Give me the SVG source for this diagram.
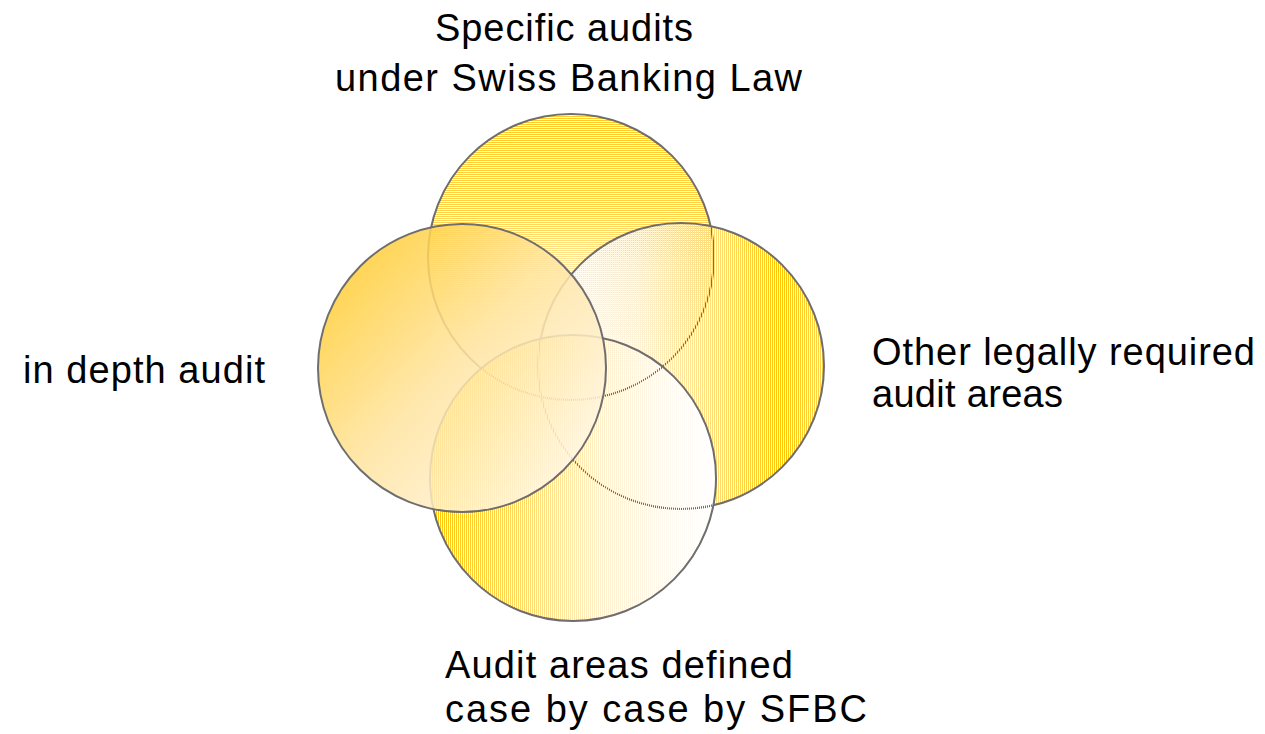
<svg xmlns="http://www.w3.org/2000/svg" width="1265" height="734" viewBox="0 0 1265 734">
  <style>
    .label { font-family: "Liberation Sans", Arial, sans-serif; font-size: 38px; fill: #000; }
    .rim { fill: none; stroke: #6e6e6e; stroke-width: 2; }
  </style>
  <defs>
    <!-- 1px line screens used to hatch the fills -->
    <pattern id="lines-h" patternUnits="userSpaceOnUse" x="0" y="0" width="4" height="2">
      <rect x="0" y="0" width="4" height="1" fill="#fff"/>
    </pattern>
    <pattern id="lines-v" patternUnits="userSpaceOnUse" x="0" y="0" width="2" height="4">
      <rect x="0" y="0" width="1" height="4" fill="#fff"/>
    </pattern>
    <mask id="screen-h" maskUnits="userSpaceOnUse" x="0" y="0" width="1265" height="734">
      <rect x="0" y="0" width="1265" height="734" fill="url(#lines-h)"/>
    </mask>
    <mask id="screen-v" maskUnits="userSpaceOnUse" x="0" y="0" width="1265" height="734">
      <rect x="0" y="0" width="1265" height="734" fill="url(#lines-v)"/>
    </mask>

    <linearGradient id="fill-top" gradientUnits="userSpaceOnUse" x1="0" y1="114" x2="0" y2="400">
      <stop offset="0" stop-color="#ffc926"/>
      <stop offset="0.35" stop-color="#ffd149"/>
      <stop offset="0.55" stop-color="#ffe9a6"/>
      <stop offset="0.8" stop-color="#fff6e0"/>
      <stop offset="1" stop-color="#ffffff"/>
    </linearGradient>
    <linearGradient id="fill-right" gradientUnits="userSpaceOnUse" x1="538" y1="0" x2="824" y2="0">
      <stop offset="0" stop-color="#ffffff"/>
      <stop offset="0.35" stop-color="#fff3d6"/>
      <stop offset="0.62" stop-color="#ffdc73"/>
      <stop offset="0.85" stop-color="#ffc400"/>
      <stop offset="1" stop-color="#ffd34d"/>
    </linearGradient>
    <linearGradient id="fill-bottom" gradientUnits="userSpaceOnUse" x1="430" y1="0" x2="716" y2="0">
      <stop offset="0" stop-color="#ffc400"/>
      <stop offset="0.3" stop-color="#ffd65c"/>
      <stop offset="0.6" stop-color="#fff0cc"/>
      <stop offset="0.85" stop-color="#fffaf2"/>
      <stop offset="1" stop-color="#ffffff"/>
    </linearGradient>
    <linearGradient id="fill-left" gradientUnits="userSpaceOnUse" x1="340" y1="260" x2="590" y2="490">
      <stop offset="0" stop-color="#ffcc2e"/>
      <stop offset="0.45" stop-color="#ffe4a0"/>
      <stop offset="1" stop-color="#fffaf2"/>
    </linearGradient>
  </defs>

  <rect x="0" y="0" width="1265" height="734" fill="#fff"/>

  <!-- no connectors in this diagram -->
  <g id="connectors"/>

  <g id="node-top">
    <circle cx="571" cy="257" r="143" fill="url(#fill-top)" mask="url(#screen-h)"/>
    <circle class="rim" cx="571" cy="257" r="143"/>
  </g>

  <g id="node-right">
    <circle cx="681" cy="366" r="143" fill="url(#fill-right)" mask="url(#screen-v)"/>
    <circle class="rim" cx="681" cy="366" r="143"/>
  </g>

  <g id="node-bottom">
    <circle cx="573" cy="478" r="143" fill="url(#fill-bottom)" mask="url(#screen-v)"/>
    <circle class="rim" cx="573" cy="478" r="143"/>
  </g>

  <g id="node-left">
    <circle cx="462" cy="368" r="144" fill="url(#fill-left)" fill-opacity="0.86"/>
    <circle class="rim" cx="462" cy="368" r="144" stroke="#7a7a7a"/>
  </g>

  <g id="label-top">
    <text class="label" x="435" y="41" textLength="258" lengthAdjust="spacing">Specific audits</text>
    <text class="label" x="335" y="91" textLength="467" lengthAdjust="spacing">under Swiss Banking Law</text>
  </g>
  <g id="label-left">
    <text class="label" x="23" y="383" textLength="242" lengthAdjust="spacing">in depth audit</text>
  </g>
  <g id="label-right">
    <text class="label" x="872" y="365" textLength="383" lengthAdjust="spacing">Other legally required</text>
    <text class="label" x="872" y="407" textLength="191" lengthAdjust="spacing">audit areas</text>
  </g>
  <g id="label-bottom">
    <text class="label" x="445" y="678" textLength="348" lengthAdjust="spacing">Audit areas defined</text>
    <text class="label" x="445" y="722" textLength="422" lengthAdjust="spacing">case by case by SFBC</text>
  </g>
</svg>
